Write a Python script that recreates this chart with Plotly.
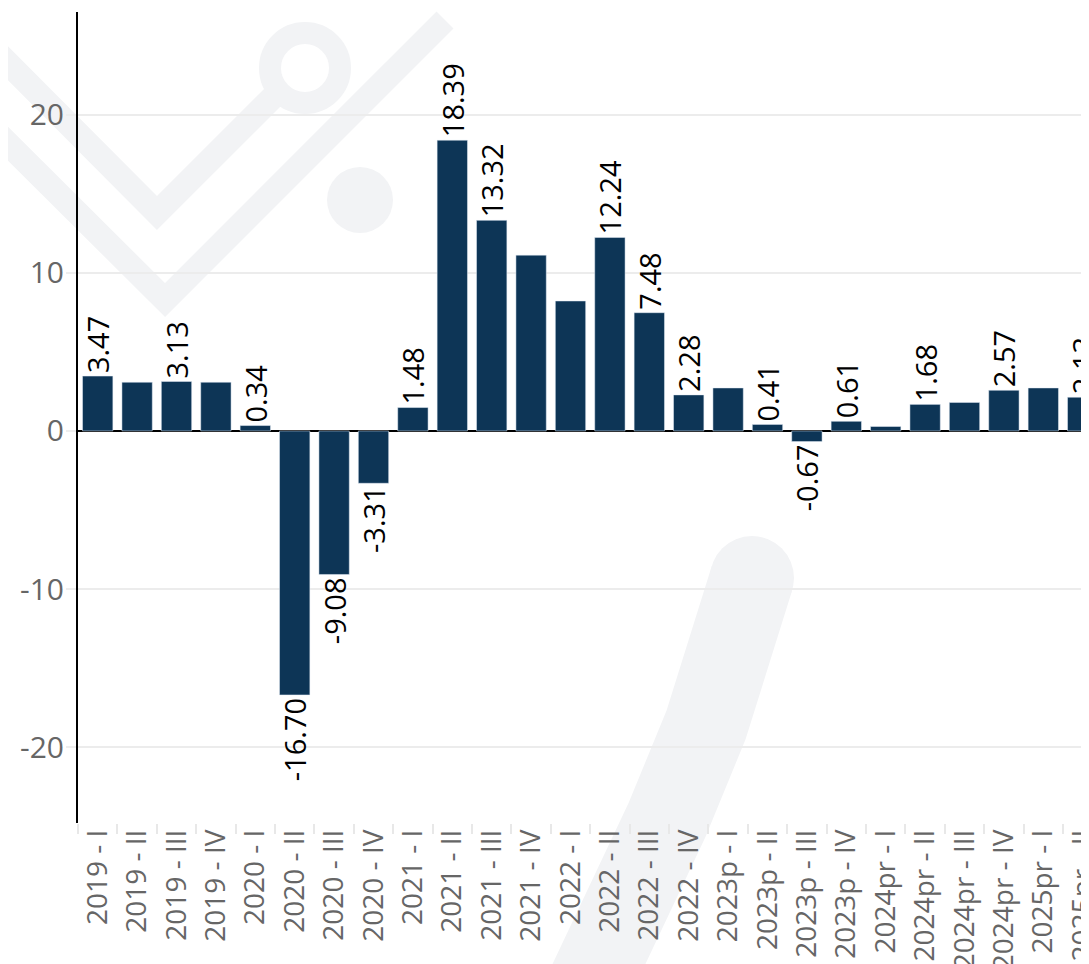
import plotly.graph_objects as go

categories = ["2019 - I", "2019 - II", "2019 - III", "2019 - IV",
              "2020 - I", "2020 - II", "2020 - III", "2020 - IV",
              "2021 - I", "2021 - II", "2021 - III", "2021 - IV",
              "2022 - I", "2022 - II", "2022 - III", "2022 - IV",
              "2023p - I", "2023p - II", "2023p - III", "2023p - IV",
              "2024pr - I", "2024pr - II", "2024pr - III", "2024pr - IV",
              "2025pr - I", "2025pr - II"]
values = [3.47, 3.08, 3.13, 3.08,
          0.34, -16.70, -9.08, -3.31,
          1.48, 18.39, 13.32, 11.12,
          8.22, 12.24, 7.48, 2.28,
          2.72, 0.41, -0.67, 0.61,
          0.28, 1.68, 1.80, 2.57,
          2.72, 2.13]
labels = ["3.47", "", "3.13", "",
          "0.34", "-16.70", "-9.08", "-3.31",
          "1.48", "18.39", "13.32", "",
          "", "12.24", "7.48", "2.28",
          "", "0.41", "-0.67", "0.61",
          "", "1.68", "", "2.57",
          "", "2.13"]
y_tickvals = [-20, -10, 0, 10, 20]
y_ticktext = ["-20", "-10", "0", "10", "20"]

# faint background watermark (decorative), in page pixels
wm_color = "#f2f3f5"
wm_strokes = [
    ([(-30, 25), (157, 213), (282, 88)], 24),
    ([(-30, 106), (165, 300), (445, 20)], 24),
    ([(752, 578), (706, 725), (667, 820), (582, 1000)], 84),
]
wm_rings = [((305, 68), 35, 22)]
wm_dots = [((360, 200), 33), ((752, 578), 42)]

W, H = 1081, 956
ML, MR, MT, MB = 70, 0, 4, 141
PW, PH = W - ML - MR, H - MT - MB
OFF = 8


def px(x, y):
    return ((x - OFF - ML) / PW, 1 - (y - OFF - MT) / PH)


shapes = []
for pts, w in wm_strokes:
    conv = [px(x, y) for x, y in pts]
    path = "M " + " L ".join(f"{a:.4f},{b:.4f}" for a, b in conv)
    shapes.append(dict(type="path", path=path, xref="paper", yref="paper",
                       line=dict(color=wm_color, width=w), layer="below"))
for (cx, cy), r, w in wm_rings:
    x0, y0 = px(cx - r, cy + r)
    x1, y1 = px(cx + r, cy - r)
    shapes.append(dict(type="circle", xref="paper", yref="paper",
                       x0=x0, y0=y0, x1=x1, y1=y1,
                       line=dict(color=wm_color, width=w), layer="below"))
for (cx, cy), r in wm_dots:
    x0, y0 = px(cx - r, cy + r)
    x1, y1 = px(cx + r, cy - r)
    shapes.append(dict(type="circle", xref="paper", yref="paper",
                       x0=x0, y0=y0, x1=x1, y1=y1, fillcolor=wm_color,
                       line=dict(width=0), layer="below"))

fig = go.Figure()
fig.add_trace(go.Bar(
    x=categories, y=values, text=labels,
    textposition="outside", textangle=-90, cliponaxis=False,
    constraintext="none",
    textfont=dict(family="Open Sans", size=29, color="#000000"),
    marker=dict(color="#0d3556"),
    hoverinfo="skip",
))

fig.update_layout(
    width=W, height=H,
    margin=dict(l=ML, r=MR, t=MT, b=MB, autoexpand=False),
    paper_bgcolor="white", plot_bgcolor="rgba(0,0,0,0)",
    bargap=0.23, showlegend=False,
    font=dict(family="Open Sans"),
    shapes=shapes,
)
fig.update_xaxes(
    type="category", range=[-0.5, 25.16], automargin=False,
    tickangle=-90, tickson="boundaries", ticks="outside", ticklen=10,
    tickcolor="#e8e8e8", tickwidth=2,
    tickfont=dict(family="Open Sans", size=28, color="#666666"),
    showgrid=False, showline=False,
)
fig.update_yaxes(
    range=[-24.8, 26.5], tickvals=y_tickvals, ticktext=y_ticktext,
    automargin=False, ticklabelstandoff=-4,
    ticks="outside", ticklen=10, tickcolor="#eeeeee", tickwidth=2,
    tickfont=dict(family="Open Sans", size=30, color="#666666"),
    showgrid=True, gridcolor="#ececec", gridwidth=2,
    zeroline=True, zerolinecolor="#000000", zerolinewidth=2,
    showline=True, linecolor="#000000", linewidth=2,
)

fig.write_html("out.html")
